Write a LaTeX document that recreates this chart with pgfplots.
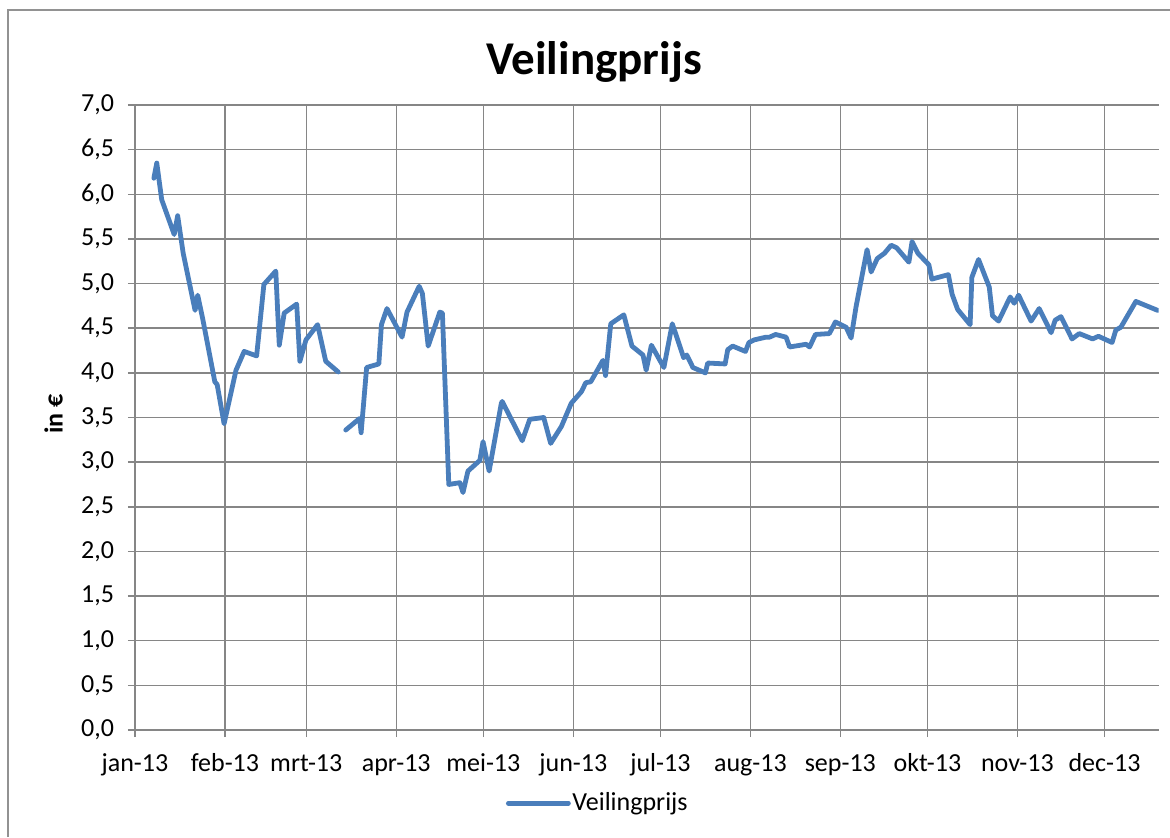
\documentclass[border=0pt]{standalone}
\usepackage{fontspec}
\setmainfont{Carlito}
\usepackage{pgfplots}
\pgfplotsset{compat=1.18}
\usepackage{pgfplotstable}
\definecolor{linecol}{HTML}{4A7EBB}
\definecolor{gridcol}{HTML}{868686}
\pgfplotstableread{
x y
6.5 6.18
7.5 6.35
9.2 5.94
13.5 5.55
14.7 5.76
16.6 5.34
20.7 4.70
21.6 4.87
23.3 4.61
27.5 3.90
28.3 3.87
30.7 3.43
34.8 4.03
37.6 4.24
41.9 4.19
44.4 4.99
48.5 5.14
49.7 4.31
51.4 4.67
55.7 4.77
56.8 4.13
58.9 4.37
62.9 4.54
65.7 4.13
70.0 4.01
71.3 nan
72.6 3.36
77.4 3.49
77.9 3.33
79.8 4.06
84.0 4.10
84.9 4.54
86.8 4.72
92.0 4.40
93.7 4.68
97.9 4.97
99.0 4.89
101.0 4.30
105.0 4.68
105.9 4.67
108.1 2.75
111.9 2.77
113.0 2.66
114.7 2.90
118.8 3.02
119.9 3.23
122.0 2.90
126.2 3.66
126.5 3.68
133.4 3.24
136.0 3.48
140.8 3.50
143.2 3.21
146.9 3.40
150.3 3.66
153.8 3.79
155.3 3.89
157.0 3.90
161.2 4.14
162.1 3.97
163.9 4.55
168.4 4.65
171.2 4.30
175.0 4.20
176.1 4.03
177.9 4.31
182.2 4.06
185.1 4.55
189.0 4.17
190.1 4.20
192.2 4.06
196.5 4.00
197.3 4.11
203.3 4.10
204.2 4.26
205.9 4.30
210.3 4.24
211.5 4.34
213.4 4.37
217.4 4.40
218.6 4.40
220.7 4.43
224.3 4.40
225.5 4.29
231.2 4.32
232.4 4.29
234.4 4.43
239.2 4.44
241.3 4.57
245.0 4.51
246.7 4.39
248.4 4.74
252.2 5.38
253.6 5.13
255.7 5.28
258.2 5.34
260.5 5.43
262.4 5.40
266.6 5.24
267.7 5.47
269.7 5.34
273.5 5.21
274.5 5.05
280.2 5.10
281.5 4.88
283.4 4.71
287.7 4.54
288.3 5.07
290.6 5.27
294.3 4.96
295.4 4.64
297.5 4.58
301.5 4.85
302.9 4.78
304.4 4.87
308.7 4.58
311.5 4.72
315.6 4.45
317.0 4.59
319.0 4.63
322.8 4.38
325.3 4.44
329.9 4.38
331.9 4.41
336.6 4.34
337.9 4.48
339.6 4.51
344.8 4.80
352.3 4.70
}\prices
\begin{document}
\begin{tikzpicture}
\useasboundingbox (0,0) rectangle (585pt,418.5pt);
\draw[gridcol!90, line width=0.9pt] (4pt,0) -- (4pt,413.5pt) -- (586pt,413.5pt);
\begin{axis}[
  at={(67.5pt,53.5pt)}, anchor=south west,
  scale only axis, width=511.75pt, height=312.5pt,
  xmin=0, xmax=352.6, ymin=0, ymax=7,
  enlargelimits=false,
  axis lines=left,
  axis line style={-, gridcol, line width=0.75pt},
  grid=major,
  major grid style={gridcol, line width=0.75pt},
  tick align=outside,
  major tick length=3.5pt,
  tick style={gridcol, line width=0.75pt},
  xtick={0,31,59,90,120,151,181,212,243,273,304,334},
  xticklabels={jan-13,feb-13,mrt-13,apr-13,mei-13,jun-13,jul-13,aug-13,sep-13,okt-13,nov-13,dec-13},
  ytick={0,0.5,...,7.01},
  /pgf/number format/use comma,
  /pgf/number format/fixed,
  /pgf/number format/fixed zerofill,
  /pgf/number format/precision=1,
  /pgf/number format/assume math mode=true,
  ticklabel style={font=\fontsize{13pt}{15pt}\selectfont},
  yticklabel style={xshift=-3.5pt},
  xticklabel style={yshift=-4pt, text height=9.5pt, text depth=3pt},
  unbounded coords=jump,
  legend style={at={(0.452,-0.117)}, anchor=center, draw=none, fill=none,
    font=\fontsize{13pt}{15pt}\selectfont, inner sep=1pt, nodes={inner sep=0.8pt}},
  legend cell align=left,
  legend image code/.code={\draw[#1, line width=2.4pt] (0pt,0pt) -- (30pt,0pt);},
]
\addplot[color=linecol, line width=2.4pt, line join=round, line cap=round] table[x=x,y=y] {\prices};
\addlegendentry{Veilingprijs}
\end{axis}
\node[anchor=base, font=\fontsize{23.5pt}{28pt}\selectfont\bfseries] at (297pt,381pt) {Veilingprijs};
\node[rotate=90, font=\fontsize{13pt}{15pt}\selectfont\bfseries] at (26.75pt,211.5pt) {in €};
\end{tikzpicture}
\end{document}
